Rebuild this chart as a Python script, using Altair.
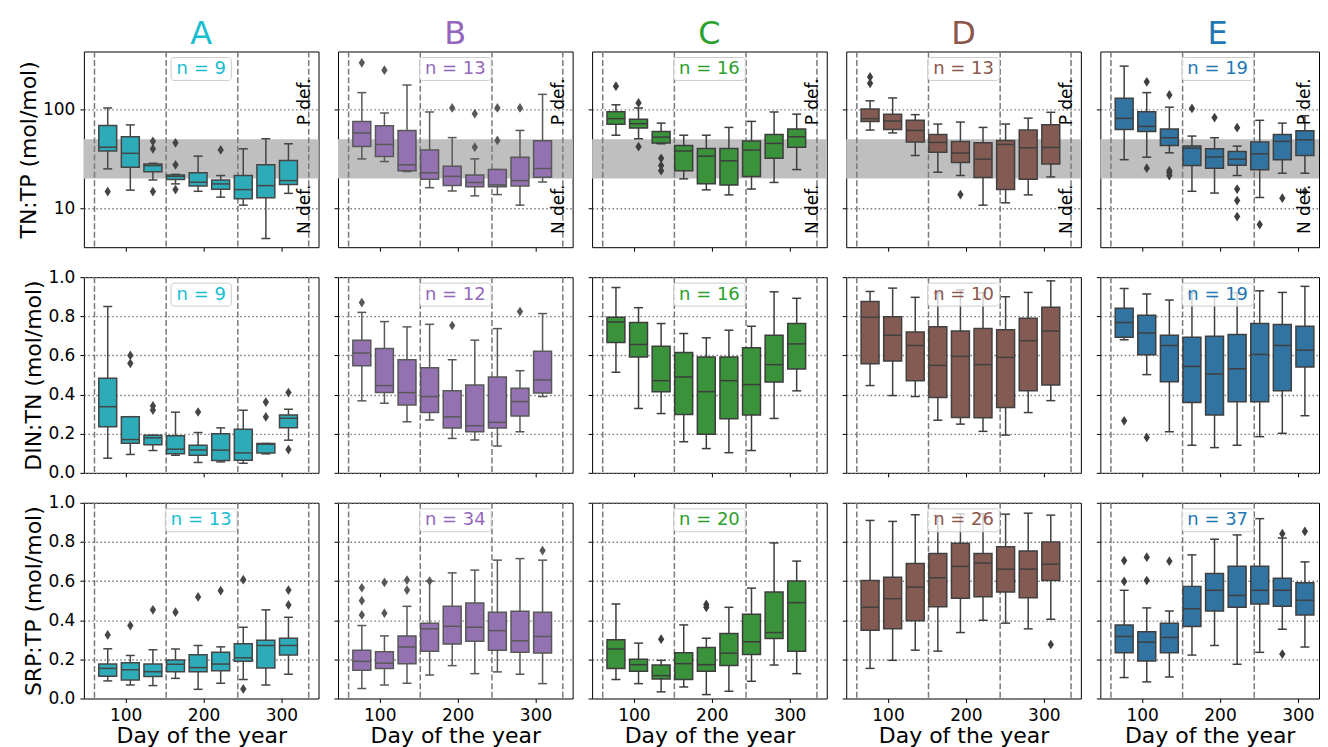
import altair as alt
import pandas as pd

# ---------------- data ----------------
POSITIONS = [77, 106, 135, 164, 193, 222, 251, 280, 309]
SEASON_DAYS = [60, 152, 244, 335]
X_TICKS = [100, 200, 300]
X_START = 46.4
SITES = ["A", "B", "C", "D", "E"]
TITLE_COLORS = ["#17becf", "#9467bd", "#2ca02c", "#8c564b", "#1f77b4"]
BOX_COLORS = ["#2eabb8", "#9472b2", "#3a923a", "#845b53", "#3274a1"]
EDGE_COLORS = ["#454545", "#585858", "#3d3d3d", "#404040", "#3f3f3f"]
ROW_TITLES = ["TN:TP (mol/mol)", "DIN:TN (mol/mol)", "SRP:TP (mol/mol)"]
BAND = [20, 50]
DEF_LABELS = ["P def.", "N def."]
DEF_Y = [120, 9.7]

# each box: (lower whisker, q1, median, q3, upper whisker)
TNTP_A = [(25, 38, 41.5, 69, 104), (15.2, 26, 36, 53, 70), (19.3, 23.4, 27, 28, 28.5),
          (17.6, 19.5, 21, 21.7, 22), (14.8, 16.8, 18.3, 22.8, 33.7), (12.9, 15.5, 17.6, 19.3, 21.4),
          (10.7, 12.4, 15.4, 21.4, 40), (4.9, 12.7, 16.9, 27.5, 50.6), (14.1, 17.4, 19, 30.4, 45)]
TNTP_B = [(31.6, 42.3, 57.9, 76, 149), (29.7, 33.4, 44.3, 68.7, 92.5), (23.5, 24.0, 27.5, 61.5, 178),
          (16.1, 19.6, 22.8, 38.8, 94.7), (14.9, 16.9, 21, 26.6, 52), (13.3, 16.5, 18.2, 21.7, 31.6),
          (13.7, 16.5, 17.2, 24.6, 24.6), (10.7, 16.8, 19.0, 32.9, 61.5), (18.4, 20.6, 25.2, 48.3, 143)]
TNTP_C = [(55, 71, 81, 95, 112), (50.6, 65, 72, 80, 104), (45, 45.8, 52.6, 60, 73),
          (19.8, 23.9, 38, 43.3, 55), (15.3, 17.7, 33.7, 40.3, 55), (13.6, 17.1, 30.2, 40.3, 66),
          (15.6, 20.9, 38.8, 48, 76), (18.2, 32.1, 45.4, 56, 94.7), (24.6, 41.6, 53, 63.5, 90)]
TNTP_D = [(62, 76, 81, 101.6, 123), (58, 63, 76.6, 90, 131.5), (34.2, 46.8, 61.5, 78, 89),
          (23.1, 37, 46.5, 56, 71.4), (21.4, 29, 36.2, 47.5, 74.8), (10.7, 20.4, 31.4, 46, 66),
          (11.3, 15.4, 44.3, 48.6, 71.4), (13.6, 19.6, 41, 62, 82), (20.7, 28, 41.3, 70.3, 94)]
TNTP_E = [(31, 63, 81.6, 130.5, 277), (32.9, 60, 67.6, 95, 149), (36.4, 43.3, 51.8, 63.5, 106),
          (14.8, 27, 40.6, 42.6, 53.9), (14.2, 25.4, 33.1, 40, 51.8), (21.4, 27.2, 31.4, 37.6, 42.6),
          (12.8, 24.5, 35.6, 46.8, 77.9), (22.6, 30.9, 47.6, 56, 73), (22.6, 34.2, 49.4, 61, 86.8)]

DINTN_A = [(0.075, 0.235, 0.338, 0.483, 0.85), (0.094, 0.151, 0.17, 0.287, 0.287), (0.114, 0.143, 0.179, 0.192, 0.192),
           (0.09, 0.097, 0.121, 0.19, 0.31), (0.053, 0.09, 0.117, 0.141, 0.206), (0.056, 0.063, 0.116, 0.2, 0.23),
           (0.049, 0.065, 0.102, 0.223, 0.32), (0.097, 0.102, 0.146, 0.15, 0.15), (0.167, 0.23, 0.279, 0.296, 0.325)]
DINTN_B = [(0.368, 0.547, 0.612, 0.678, 0.82), (0.356, 0.41, 0.446, 0.636, 0.773), (0.261, 0.347, 0.41, 0.578, 0.746),
           (0.27, 0.308, 0.39, 0.537, 0.759), (0.176, 0.229, 0.286, 0.419, 0.578), (0.168, 0.21, 0.241, 0.449, 0.678),
           (0.137, 0.229, 0.258, 0.49, 0.737), (0.21, 0.29, 0.364, 0.432, 0.522), (0.39, 0.408, 0.475, 0.622, 0.814)]
DINTN_C = [(0.514, 0.666, 0.771, 0.795, 0.947), (0.329, 0.592, 0.656, 0.768, 0.844), (0.303, 0.415, 0.471, 0.647, 0.763),
           (0.159, 0.298, 0.49, 0.615, 0.712), (0.124, 0.197, 0.415, 0.592, 0.69), (0.103, 0.276, 0.471, 0.592, 0.729),
           (0.114, 0.295, 0.451, 0.639, 0.749), (0.278, 0.464, 0.553, 0.703, 0.925), (0.419, 0.531, 0.659, 0.763, 0.892)]
DINTN_D = [(0.446, 0.558, 0.795, 0.875, 0.927), (0.395, 0.571, 0.703, 0.798, 0.944), (0.39, 0.471, 0.651, 0.72, 0.897),
           (0.269, 0.385, 0.549, 0.746, 0.92), (0.249, 0.283, 0.595, 0.725, 0.935), (0.212, 0.281, 0.553, 0.737, 0.92),
           (0.193, 0.334, 0.59, 0.731, 0.9), (0.308, 0.419, 0.675, 0.79, 0.922), (0.369, 0.449, 0.725, 0.846, 0.981)]
DINTN_E = [(0.68, 0.693, 0.768, 0.841, 0.942), (0.502, 0.603, 0.715, 0.805, 0.914), (0.21, 0.466, 0.651, 0.703, 0.883),
           (0.141, 0.359, 0.544, 0.693, 0.92), (0.129, 0.295, 0.505, 0.698, 0.9), (0.141, 0.363, 0.532, 0.707, 0.92),
           (0.185, 0.363, 0.605, 0.763, 0.93), (0.202, 0.419, 0.651, 0.758, 0.922), (0.292, 0.541, 0.627, 0.749, 0.953)]

SRPTP_A = [(0.09, 0.114, 0.154, 0.176, 0.254), (0.069, 0.095, 0.147, 0.183, 0.22), (0.066, 0.112, 0.137, 0.176, 0.249),
           (0.103, 0.137, 0.175, 0.197, 0.253), (0.047, 0.137, 0.158, 0.224, 0.271), (0.078, 0.142, 0.176, 0.236, 0.264),
           (0.097, 0.19, 0.208, 0.28, 0.364), (0.069, 0.156, 0.271, 0.298, 0.453), (0.124, 0.222, 0.271, 0.308, 0.415)]
SRPTP_B = [(0.051, 0.144, 0.19, 0.247, 0.373), (0.069, 0.153, 0.181, 0.239, 0.32), (0.078, 0.178, 0.263, 0.32, 0.471),
           (0.12, 0.242, 0.356, 0.385, 0.6), (0.168, 0.278, 0.369, 0.471, 0.642), (0.127, 0.293, 0.364, 0.488, 0.656),
           (0.136, 0.247, 0.347, 0.441, 0.707), (0.124, 0.237, 0.295, 0.446, 0.715), (0.076, 0.232, 0.317, 0.441, 0.707)]
SRPTP_C = [(0.097, 0.153, 0.253, 0.3, 0.483), (0.076, 0.139, 0.173, 0.2, 0.283), (0.034, 0.1, 0.117, 0.171, 0.195),
           (0.059, 0.097, 0.178, 0.234, 0.376), (0.02, 0.139, 0.173, 0.261, 0.308), (0.037, 0.169, 0.232, 0.332, 0.466),
           (0.088, 0.225, 0.29, 0.431, 0.564), (0.171, 0.307, 0.337, 0.544, 0.795), (0.127, 0.242, 0.49, 0.6, 0.702)]
SRPTP_D = [(0.154, 0.349, 0.466, 0.603, 0.91), (0.195, 0.356, 0.51, 0.62, 0.905), (0.247, 0.397, 0.569, 0.69, 0.939),
           (0.242, 0.469, 0.617, 0.741, 0.935), (0.337, 0.512, 0.675, 0.793, 0.944), (0.4, 0.52, 0.692, 0.741, 0.944),
           (0.385, 0.544, 0.661, 0.776, 0.942), (0.356, 0.515, 0.661, 0.754, 0.947), (0.405, 0.603, 0.686, 0.8, 0.937)]
SRPTP_E = [(0.107, 0.234, 0.317, 0.376, 0.553), (0.085, 0.192, 0.288, 0.341, 0.463), (0.11, 0.234, 0.312, 0.385, 0.447),
           (0.222, 0.368, 0.459, 0.573, 0.734), (0.271, 0.447, 0.553, 0.639, 0.814), (0.175, 0.466, 0.527, 0.676, 0.836),
           (0.236, 0.483, 0.553, 0.676, 0.919), (0.354, 0.471, 0.553, 0.614, 0.82), (0.263, 0.427, 0.502, 0.592, 0.698)]

# outliers: (box index, value)
TNTP_A_OUT = [(0, 14.7), (2, 47.6), (2, 40), (2, 14.7), (3, 46), (3, 27.5), (3, 15.4), (5, 39)]
TNTP_B_OUT = [(0, 299), (1, 252), (4, 104), (5, 91), (5, 41.6), (6, 104), (6, 48.6), (7, 104)]
TNTP_C_OUT = [(0, 173), (1, 117), (1, 42), (2, 32), (2, 27), (2, 24)]
TNTP_D_OUT = [(0, 215), (0, 185), (4, 13.7)]
TNTP_E_OUT = [(1, 192), (1, 25.4), (2, 141), (2, 24), (2, 22.8), (2, 21.4), (3, 103), (4, 83), (5, 65.6),
              (5, 15.6), (5, 11.9), (5, 8.2), (6, 6.8), (7, 12.6), (8, 14.7)]
DINTN_A_OUT = [(1, 0.60), (1, 0.56), (2, 0.342), (2, 0.321), (4, 0.311), (7, 0.362), (7, 0.286), (8, 0.41), (8, 0.119)]
DINTN_B_OUT = [(0, 0.87), (4, 0.753), (7, 0.824)]
DINTN_C_OUT = []
DINTN_D_OUT = []
DINTN_E_OUT = [(0, 0.266), (1, 0.181)]
SRPTP_A_OUT = [(0, 0.325), (1, 0.373), (2, 0.453), (3, 0.441), (4, 0.519), (5, 0.551), (6, 0.607), (6, 0.049),
               (8, 0.554), (8, 0.478)]
SRPTP_B_OUT = [(0, 0.566), (0, 0.5), (0, 0.427), (1, 0.593), (1, 0.436), (2, 0.605), (2, 0.554), (3, 0.6), (8, 0.756)]
SRPTP_C_OUT = [(2, 0.303), (4, 0.481), (4, 0.466)]
SRPTP_D_OUT = [(8, 0.276)]
SRPTP_E_OUT = [(0, 0.705), (0, 0.598), (1, 0.722), (1, 0.603), (2, 0.702), (7, 0.842), (7, 0.227), (8, 0.854)]

N_TNTP = [9, 13, 16, 13, 19]
N_DINTN = [9, 12, 16, 10, 19]
N_SRPTP = [13, 34, 20, 26, 37]

STATS = [[TNTP_A, TNTP_B, TNTP_C, TNTP_D, TNTP_E],
         [DINTN_A, DINTN_B, DINTN_C, DINTN_D, DINTN_E],
         [SRPTP_A, SRPTP_B, SRPTP_C, SRPTP_D, SRPTP_E]]
OUTS = [[TNTP_A_OUT, TNTP_B_OUT, TNTP_C_OUT, TNTP_D_OUT, TNTP_E_OUT],
        [DINTN_A_OUT, DINTN_B_OUT, DINTN_C_OUT, DINTN_D_OUT, DINTN_E_OUT],
        [SRPTP_A_OUT, SRPTP_B_OUT, SRPTP_C_OUT, SRPTP_D_OUT, SRPTP_E_OUT]]
NS = [N_TNTP, N_DINTN, N_SRPTP]

# ---------------- layout / style ----------------
W, H = 235, 196
PX_PER_DAY = 235 / 301.2
PANEL_W = [235, 235, 235, 235, 219]   # the last column is cut at the window edge, as in the reference
BOX_HALF = 11.5
CAP_HALF = 5.75
FONT = "DejaVu Sans"
DIAMOND = "M0,-1L0.65,0L0,1L-0.65,0Z"
CHAR_W = {"n": 0.634, " ": 0.318, "=": 0.838}
LABEL_SIZE = 18


def text_width(s, size):
    return sum(CHAR_W.get(ch, 0.636) for ch in s) * size


def panel(r, c):
    edge = EDGE_COLORS[c]
    pw = PANEL_W[c]
    x_end = X_START + pw / PX_PER_DAY
    df = pd.DataFrame(STATS[r][c], columns=["lo", "q1", "med", "q3", "hi"])
    df["pos"] = POSITIONS
    df["left"] = df["pos"] - BOX_HALF
    df["right"] = df["pos"] + BOX_HALF
    df["cl"] = df["pos"] - CAP_HALF
    df["cr"] = df["pos"] + CAP_HALF

    xs = alt.Scale(domain=[X_START, x_end], nice=False, zero=False)
    if r == 0:
        ys = alt.Scale(type="log", domain=[4, 390], nice=False)
        yvals = [10, 100]
        yfmt = "d"
    else:
        ys = alt.Scale(domain=[0, 1], nice=False, zero=False)
        yvals = [0, 0.2, 0.4, 0.6, 0.8, 1.0]
        yfmt = ".1f"

    xaxis = alt.Axis(values=X_TICKS, grid=False, labels=(r == 2), format="d")
    yaxis = alt.Axis(values=yvals, grid=True, labels=(c == 0), format=yfmt)
    xtitle = "Day of the year" if r == 2 else None
    ytitle = ROW_TITLES[r] if c == 0 else None

    def X(f):
        return alt.X(f, type="quantitative", scale=xs, axis=xaxis, title=xtitle)

    def Y(f):
        return alt.Y(f, type="quantitative", scale=ys, axis=yaxis, title=ytitle)

    layers = []
    if r == 0:
        band = pd.DataFrame({"x0": [X_START], "x1": [x_end], "y0": [BAND[0]], "y1": [BAND[1]]})
        layers.append(alt.Chart(band).mark_rect(color="#bfbfbf").encode(
            x=X("x0"), x2="x1", y=Y("y0"), y2="y1"))

    seasons = pd.DataFrame({"d": [d for d in SEASON_DAYS if d < x_end]})
    layers.append(alt.Chart(seasons).mark_rule(color="#7a7a7a", strokeWidth=1.5, strokeDash=[6, 2.6]).encode(
        x=X("d")))

    base = alt.Chart(df)
    layers.append(base.mark_rule(color=edge, strokeWidth=1.5).encode(x=X("pos"), y=Y("lo"), y2="hi"))
    layers.append(base.mark_rule(color=edge, strokeWidth=1.5).encode(x=X("cl"), x2="cr", y=Y("lo")))
    layers.append(base.mark_rule(color=edge, strokeWidth=1.5).encode(x=X("cl"), x2="cr", y=Y("hi")))
    layers.append(base.mark_rect(fill=BOX_COLORS[c], stroke=edge, strokeWidth=1.5).encode(
        x=X("left"), x2="right", y=Y("q1"), y2="q3"))
    layers.append(base.mark_rule(color=edge, strokeWidth=1.5).encode(x=X("left"), x2="right", y=Y("med")))

    if OUTS[r][c]:
        od = pd.DataFrame(OUTS[r][c], columns=["i", "v"])
        od["pos"] = [POSITIONS[i] for i in od["i"]]
        layers.append(alt.Chart(od).mark_point(shape=DIAMOND, filled=True, color=edge, size=95, opacity=1).encode(
            x=X("pos"), y=Y("v")))

    label = f"n = {NS[r][c]}"
    bw = text_width(label, LABEL_SIZE) + 11
    lab = pd.DataFrame({"t": [label]})
    layers.append(alt.Chart(lab).mark_rect(fill="white", fillOpacity=0.75, stroke="#cccccc", strokeWidth=1,
                                           cornerRadius=3).encode(
        x=alt.value(W / 2 - bw / 2), x2=alt.value(W / 2 + bw / 2), y=alt.value(6), y2=alt.value(29)))
    layers.append(alt.Chart(lab).mark_text(color=TITLE_COLORS[c], fontSize=LABEL_SIZE, align="center",
                                           baseline="middle").encode(
        text="t:N", x=alt.value(W / 2), y=alt.value(17.5)))

    if r == 0:
        dd = pd.DataFrame({"t": DEF_LABELS, "y": DEF_Y})
        layers.append(alt.Chart(dd).mark_text(color="black", fontSize=17, angle=270, align="center",
                                              baseline="middle").encode(
            text="t:N", x=alt.value(pw - 14), y=Y("y")))
        head = pd.DataFrame({"t": [SITES[c]]})
        layers.append(alt.Chart(head).mark_text(color=TITLE_COLORS[c], fontSize=32, align="center",
                                                baseline="alphabetic").encode(
            text="t:N", x=alt.value(W / 2), y=alt.value(-8)))

    return alt.layer(*layers).properties(width=pw, height=H)


panels = [panel(r, c) for r in range(3) for c in range(5)]

chart = alt.concat(*panels, columns=5, spacing={"row": 30, "column": 19.5}, bounds="flush").resolve_scale(
    x="independent", y="independent"
).properties(
    padding={"left": 9, "top": 8, "right": 0, "bottom": 0}
).configure(font=FONT).configure_view(
    stroke="black", strokeWidth=1
).configure_axis(
    labelFont=FONT, titleFont=FONT, labelFontSize=17, titleFontSize=22, titleFontWeight="normal",
    labelColor="black", titleColor="black", tickColor="black", tickSize=4, tickWidth=1,
    domain=False, labelPadding=5, titlePadding=2,
    gridColor="#7a7a7a", gridDash=[1.5, 2.5], gridWidth=1.4
)

chart.save("out.html", embed_options={"renderer": "svg", "actions": False})
